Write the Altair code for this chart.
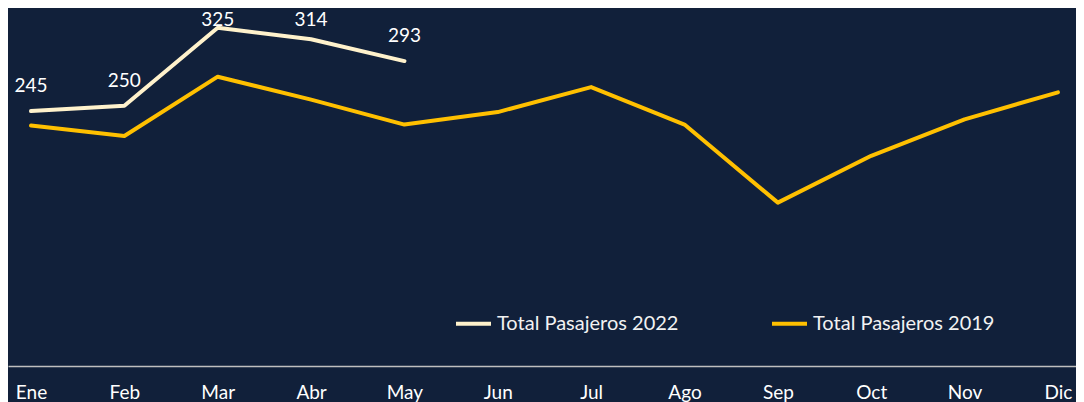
import altair as alt
import pandas as pd

meses = ["Ene", "Feb", "Mar", "Abr", "May", "Jun", "Jul", "Ago", "Sep", "Oct", "Nov", "Dic"]
pasajeros_2022 = [245, 250, 325, 314, 293]
pasajeros_2019 = [231, 221, 278, 256, 232, 244, 268, 232, 157, 202, 237, 263]
serie_2022 = "Total Pasajeros 2022"
serie_2019 = "Total Pasajeros 2019"

rows = []
for m, v in zip(meses, pasajeros_2022):
    rows.append({"Mes": m, "Valor": v, "Serie": serie_2022})
for m, v in zip(meses, pasajeros_2019):
    rows.append({"Mes": m, "Valor": v, "Serie": serie_2019})
df = pd.DataFrame(rows)

FONT = "Lato"
BG = "#11203A"

x_enc = alt.X(
    "Mes:N",
    sort=meses,
    scale=alt.Scale(type="point", padding=0.22, align=0.56),
    axis=alt.Axis(
        title=None, labelAngle=0, ticks=False, grid=False,
        domainColor="#BFBFBF", domainWidth=1.5,
        labelColor="#FFFFFF", labelFont=FONT, labelFontSize=19,
        labelPadding=17, labelBaseline="top",
    ),
)
y_scale = alt.Scale(domain=[0, 344], nice=False, zero=True)

lines = alt.Chart(df).mark_line(strokeWidth=4, strokeCap="round", strokeJoin="round").encode(
    x=x_enc,
    y=alt.Y("Valor:Q", scale=y_scale, axis=None),
    color=alt.Color(
        "Serie:N",
        scale=alt.Scale(domain=[serie_2022, serie_2019], range=["#FFF2CC", "#FFC000"]),
        legend=alt.Legend(
            title=None, orient="none", direction="horizontal",
            legendX=446, legendY=296,
            symbolType="stroke", symbolSize=1225, symbolStrokeWidth=4,
            labelColor="#F2F2F2", labelFont=FONT, labelFontSize=20,
            labelOffset=4, columnPadding=85, labelLimit=400,
        ),
    ),
    detail="Serie:N",
)

labels = alt.Chart(df[df["Serie"] == serie_2022]).transform_calculate(
    ly="min(datum.Valor + 18, 327)"
).mark_text(
    font=FONT, fontSize=19, color="#FFFFFF", baseline="alphabetic", align="center"
).encode(
    x=alt.X("Mes:N", sort=meses, scale=alt.Scale(type="point", padding=0.22, align=0.56)),
    y=alt.Y("ly:Q", scale=y_scale, axis=None),
    text=alt.Text("Valor:Q"),
)

chart = alt.layer(lines, labels).properties(
    width=1068, height=358,
    autosize=alt.AutoSizeParams(type="none"),
    padding={"left": 0, "right": 0, "top": 0, "bottom": 36},
    background=BG,
).configure_view(stroke=None)

chart.save("out.html", embed_options={"renderer": "svg", "actions": False})
